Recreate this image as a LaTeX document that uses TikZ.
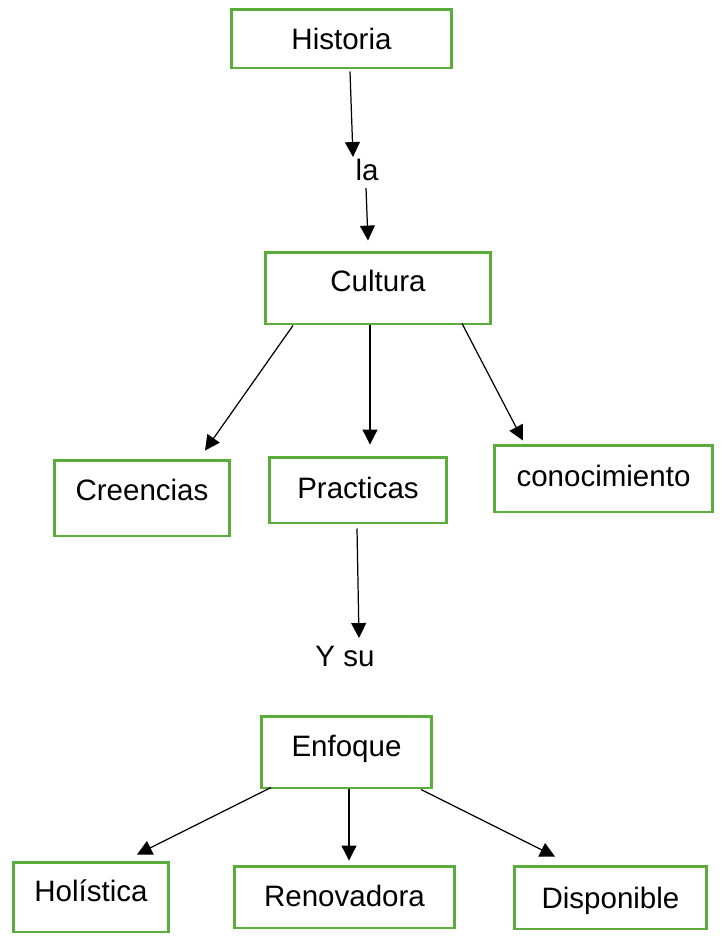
\documentclass[tikz,border=0pt]{standalone}
\usepackage{fontspec}
\setmainfont{Liberation Sans}
\usetikzlibrary{arrows.meta,calc}
\definecolor{boxgreen}{RGB}{92,172,60}
\tikzset{
    txt/.style={font=\fontsize{16.8}{20}\selectfont, inner sep=0pt},
    box/.style={txt, draw=boxgreen, line width=1.7pt, text height=12pt, text depth=#1},
    box/.default=0pt,
    arr/.style={-{Triangle[length=8.5pt,width=8.5pt]}, line width=0.7pt}
}
\begin{document}
\begin{tikzpicture}[x=0.02cm, y=-0.02cm]
        \useasboundingbox (0, 0) rectangle (727, 941);
        \path (341.5, 38.5) node[box, minimum width=4.42cm, minimum height=1.18cm](hist) {Historia}
              (367, 170) node[txt](la) {la}
              (378, 288) node[box=7.9pt, minimum width=4.52cm, minimum height=1.44cm](cult) {Cultura};
        \path (142, 498) node[box=9.1pt, minimum width=3.52cm, minimum height=1.52cm](cree) {Creencias}
              (358, 490) node[box=2.3pt, minimum width=3.56cm, minimum height=1.32cm](prac) {Practicas}
              (603.5, 478.5) node[box=2.8pt, minimum width=4.38cm, minimum height=1.34cm](cono) {conocimiento};
        \path (345, 656) node[txt](ysu) {Y su}
              (346.5, 752) node[box=6.8pt, minimum width=3.42cm, minimum height=1.44cm](enf) {Enfoque};
        \path (91, 897) node[box=6.8pt, minimum width=3.12cm, minimum height=1.40cm](hol) {Holística}
              (344.5, 897) node[box=1.1pt, minimum width=4.42cm, minimum height=1.24cm](ren) {Renovadora}
              (610.5, 897.5) node[box, minimum width=3.86cm, minimum height=1.26cm](disp) {Disponible};
        \draw[arr] ($(hist.south)+(8.5, 2)$) -- ($(la.center)+(-14, -13)$);
        \draw[arr] ($(la.center)+(-1, 18)$) -- ($(cult.north)+(-10, -10)$);
        \draw[arr] ($(cult.south)+(-85, 0)$) -- ($(cree.north)+(63, -8)$);
        \draw[arr] ($(cult.south)+(-8, 0)$) -- ($(prac.north)+(12, -11)$);
        \draw[arr] ($(cult.south)+(84, -2)$) -- ($(cono.north)+(-80.5, -3)$);
        \draw[arr] ($(prac.south)+(-1, 4)$) -- ($(ysu.center)+(14, -18)$);
        \draw[arr] ($(enf.south)+(-75.5, -2)$) -- ($(hol.north)+(46, -6)$);
        \draw[arr] ($(enf.south)+(2.5, 0)$) -- ($(ren.north)+(4.5, -4)$);
        \draw[arr] ($(enf.south)+(74.5, 0)$) -- ($(disp.north)+(-55.5, -8)$);
    \end{tikzpicture}
\end{document}
